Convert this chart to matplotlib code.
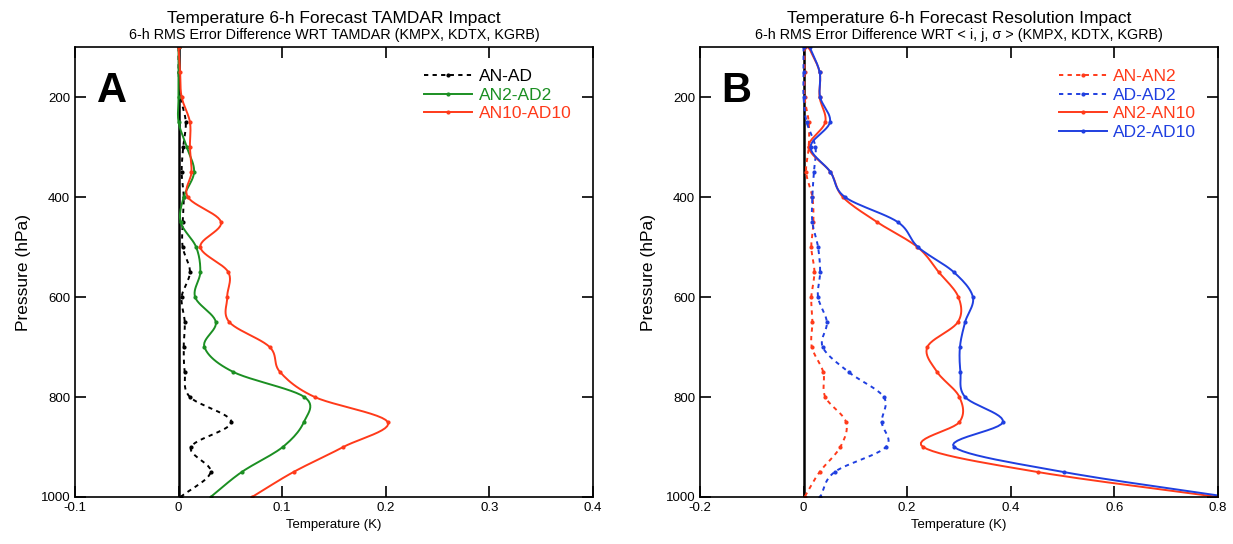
import numpy as np
import matplotlib
matplotlib.use('Agg')
import matplotlib.pyplot as plt

plt.rcParams['font.family'] = ['Liberation Sans', 'DejaVu Sans']

# pressure levels (hPa)
pres = [100, 150, 200, 250, 300, 350, 400, 450, 500, 550,
        600, 650, 700, 750, 800, 850, 900, 950, 1000]

# panel A: TAMDAR impact
an_ad = [0.0, 0.0, 0.002, 0.007, 0.0045, 0.003, 0.005, 0.004, 0.004, 0.011,
         0.003, 0.006, 0.005, 0.006, 0.011, 0.051, 0.012, 0.031, 0.002]
an2_ad2 = [0.0, 0.0, 0.0, 0.0, 0.008, 0.015, 0.005, 0.002, 0.017, 0.021,
           0.016, 0.036, 0.025, 0.053, 0.1215, 0.121, 0.1006, 0.061, 0.031]
an10_ad10 = [0.0, 0.0015, 0.003, 0.011, 0.011, 0.0125, 0.009, 0.041, 0.021, 0.048,
             0.047, 0.049, 0.088, 0.098, 0.1315, 0.202, 0.159, 0.111, 0.071]

# panel B: resolution impact
an_an2 = [0.002, 0.002, 0.002, 0.01, 0.01, 0.005, 0.017, 0.019, 0.015, 0.021,
          0.015, 0.017, 0.016, 0.038, 0.042, 0.082, 0.071, 0.031, 0.002]
ad_ad2 = [0.0, 0.0, 0.0, 0.006, 0.023, 0.02, 0.017, 0.017, 0.028, 0.032,
          0.028, 0.045, 0.037, 0.087, 0.155, 0.151, 0.159, 0.06, 0.032]
an2_an10 = [0.01, 0.031, 0.031, 0.042, 0.01, 0.052, 0.076, 0.142, 0.22, 0.261,
            0.299, 0.298, 0.239, 0.258, 0.301, 0.301, 0.231, 0.452, 0.8]
ad2_ad10 = [0.012, 0.031, 0.032, 0.051, 0.0135, 0.052, 0.08, 0.182, 0.221, 0.29,
            0.327, 0.312, 0.302, 0.303, 0.312, 0.385, 0.291, 0.502, 0.82]

RED = '#ff3a1a'
GREEN = '#1b8f22'
BLUE = '#1f3fe0'
N = 12


def smooth(p, x, n=N):
    # Catmull-Rom curve through the data points (x as function of p)
    p = np.asarray(p, float)
    x = np.asarray(x, float)
    xe = np.concatenate([[2 * x[0] - x[1]], x, [2 * x[-1] - x[-2]]])
    ps, xs = [], []
    t = np.arange(n) / n
    for i in range(len(x) - 1):
        p0, p1, p2, p3 = xe[i], xe[i + 1], xe[i + 2], xe[i + 3]
        seg = 0.5 * ((2 * p1) + (-p0 + p2) * t + (2 * p0 - 5 * p1 + 4 * p2 - p3) * t ** 2
                     + (-p0 + 3 * p1 - 3 * p2 + p3) * t ** 3)
        xs.extend(seg)
        ps.extend(p[i] + (p[i + 1] - p[i]) * t)
    xs.append(x[-1])
    ps.append(p[-1])
    return np.array(xs), np.array(ps)


def curve(ax, x, color, label, dotted=False):
    xs, ps = smooth(pres, x)
    ls = (0, (2.2, 2.2)) if dotted else '-'
    ax.plot(xs, ps, color=color, lw=1.4, ls=ls, marker='o', ms=2,
            markevery=slice(0, None, N), label=label)


fig = plt.figure(figsize=(12.33, 5.44), dpi=100)
axA = fig.add_axes([0.0608, 0.0864, 0.420, 0.827])
axB = fig.add_axes([0.5677, 0.0864, 0.420, 0.827])

curve(axA, an_ad, 'black', 'AN-AD', dotted=True)
curve(axA, an2_ad2, GREEN, 'AN2-AD2')
curve(axA, an10_ad10, RED, 'AN10-AD10')

curve(axB, an_an2, RED, 'AN-AN2', dotted=True)
curve(axB, ad_ad2, BLUE, 'AD-AD2', dotted=True)
curve(axB, an2_an10, RED, 'AN2-AN10')
curve(axB, ad2_ad10, BLUE, 'AD2-AD10')

for ax, xlim, xt, letter in [(axA, (-0.1, 0.4), [-0.1, 0, 0.1, 0.2, 0.3, 0.4], 'A'),
                             (axB, (-0.2, 0.8), [-0.2, 0, 0.2, 0.4, 0.6, 0.8], 'B')]:
    ax.axvline(0, color='black', lw=1.8, zorder=1)
    ax.set_xlim(*xlim)
    ax.set_ylim(1000, 100)
    ax.set_xticks(xt)
    ax.set_xticklabels([('%g' % v) for v in xt])
    ax.set_yticks([200, 400, 600, 800, 1000])
    ax.tick_params(direction='in', length=8, width=1.2, top=True, right=True,
                   labelsize=9.5)
    for s in ax.spines.values():
        s.set_linewidth(1.2)
    ax.set_xlabel('Temperature (K)', fontsize=9.5, labelpad=4)
    ax.set_ylabel('Pressure (hPa)', fontsize=12.5, labelpad=7)
    ax.text(0.042, 0.948, letter, transform=ax.transAxes, fontsize=30,
            fontweight='bold', va='top', ha='left')
    ax.legend(loc='upper right', frameon=False, fontsize=12.5, labelcolor='linecolor',
              handlelength=2.8, handletextpad=0.35, borderaxespad=0.6,
              labelspacing=0.2, bbox_to_anchor=(0.992, 0.99))

axA.set_title('Temperature 6-h Forecast TAMDAR Impact', fontsize=12.5, pad=17)
axA.text(0.5, 1.012, '6-h RMS Error Difference WRT TAMDAR (KMPX, KDTX, KGRB)',
         transform=axA.transAxes, ha='center', va='bottom', fontsize=10.4)
axB.set_title('Temperature 6-h Forecast Resolution Impact', fontsize=12.5, pad=17)
axB.text(0.5, 1.012, '6-h RMS Error Difference WRT < i, j, \u03c3 > (KMPX, KDTX, KGRB)',
         transform=axB.transAxes, ha='center', va='bottom', fontsize=10.4)

fig.savefig('out.png', dpi=100)
